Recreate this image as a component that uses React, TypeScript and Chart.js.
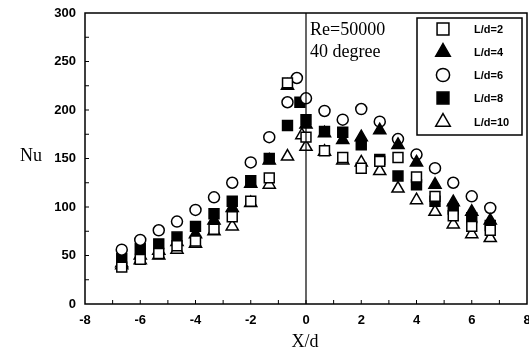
import { useEffect, useRef } from "react";
import { Chart, registerables } from "chart.js";

Chart.register(...registerables);

// X/d sample positions shared by all series
const xPositions = [-6.67, -6, -5.33, -4.67, -4, -3.33, -2.67, -2, -1.33, -0.67, 0, 0.67, 1.33, 2, 2.67, 3.33, 4, 4.67, 5.33, 6, 6.67];

// Nu values per series (L/d)
const nuLd2 = [38, 46, 52, 60, 65, 77, 90, 106, 130, 228, 172, 158, 151, 140, 147, 151, 131, 111, 91, 80, 76];
const nuLd4 = [42, 50, 55, 64, 72, 86, 99, 124, 148, 225, 185, 176, 169, 172, 179, 164, 146, 123, 105, 95, 86];
const nuLd6 = [56, 66, 76, 85, 97, 110, 125, 146, 172, 208, 212, 199, 190, 201, 188, 170, 154, 140, 125, 111, 99];
const nuLd8 = [47, 57, 62, 69, 80, 93, 106, 127, 150, 184, 190, 178, 177, 164, 149, 132, 123, 106, 98, 89, 81];
const nuLd10 = [40, 45, 50, 56, 62, 75, 80, 104, 123, 152, 162, 157, 148, 146, 137, 119, 107, 95, 82, 72, 68];

// extra points measured close to the stagnation point
const extraXLd6 = [-0.33];
const extraNuLd6 = [233];
const extraXLd8 = [-0.22];
const extraNuLd8 = [208];
const extraXLd10 = [-0.15];
const extraNuLd10 = [174];

const seriesLabels = ["L/d=2", "L/d=4", "L/d=6", "L/d=8", "L/d=10"];
const xTicks = [-8, -6, -4, -2, 0, 2, 4, 6, 8];
const yTicks = [0, 50, 100, 150, 200, 250, 300];

const SERIF = "'Liberation Serif', 'Times New Roman', serif";
const SANS = "'Liberation Sans', Arial, sans-serif";

type Sym = { style: "rect" | "triangle" | "circle"; filled: boolean; r: number };
const symbols: Sym[] = [
  { style: "rect", filled: false, r: 7 },
  { style: "triangle", filled: true, r: 7 },
  { style: "circle", filled: false, r: 5.5 },
  { style: "rect", filled: true, r: 7 },
  { style: "triangle", filled: false, r: 7 },
];

function pts(xs: number[], ys: number[]) {
  return xs.map((x, i) => ({ x, y: ys[i] }));
}

function drawSymbol(ctx: CanvasRenderingContext2D, s: Sym, x: number, y: number, scale: number) {
  const r = s.r * scale;
  ctx.beginPath();
  if (s.style === "rect") {
    const h = r * Math.SQRT1_2;
    ctx.rect(x - h, y - h, 2 * h, 2 * h);
  } else if (s.style === "circle") {
    ctx.arc(x, y, r, 0, Math.PI * 2);
  } else {
    ctx.moveTo(x, y - r);
    ctx.lineTo(x + Math.cos(Math.PI / 6) * r, y + Math.sin(Math.PI / 6) * r);
    ctx.lineTo(x - Math.cos(Math.PI / 6) * r, y + Math.sin(Math.PI / 6) * r);
    ctx.closePath();
  }
  ctx.fillStyle = s.filled ? "#000" : "#fff";
  ctx.fill();
  ctx.lineWidth = 1.5;
  ctx.strokeStyle = "#000";
  ctx.stroke();
}

const decorPlugin = {
  id: "decor",
  afterDatasetsDraw(chart: any) {
    const ctx: CanvasRenderingContext2D = chart.ctx;
    const { left, right, top, bottom } = chart.chartArea;
    const xs = chart.scales.x;
    const ys = chart.scales.y;
    ctx.save();
    // frame
    ctx.strokeStyle = "#000";
    ctx.lineWidth = 1.5;
    ctx.strokeRect(left, top, right - left, bottom - top);
    // vertical line at X/d = 0
    const x0 = xs.getPixelForValue(0);
    ctx.lineWidth = 1.2;
    ctx.beginPath();
    ctx.moveTo(x0, top);
    ctx.lineTo(x0, bottom);
    ctx.stroke();
    // inner tick marks
    ctx.lineWidth = 1;
    ctx.beginPath();
    for (let v = -7; v <= 7; v++) {
      const px = xs.getPixelForValue(v);
      ctx.moveTo(px, bottom);
      ctx.lineTo(px, bottom - 4);
    }
    for (let v = 25; v < 300; v += 25) {
      const py = ys.getPixelForValue(v);
      ctx.moveTo(left, py);
      ctx.lineTo(left + 4, py);
    }
    ctx.stroke();
    // legend
    ctx.lineWidth = 1.5;
    ctx.fillStyle = "#fff";
    ctx.fillRect(417, 18, 105, 117);
    ctx.strokeRect(417, 18, 105, 117);
    const rows = [29, 52, 75, 98, 122];
    seriesLabels.forEach((lab, i) => {
      drawSymbol(ctx, symbols[i], 443, rows[i], 1.2);
      ctx.fillStyle = "#000";
      ctx.font = `bold 11px ${SANS}`;
      ctx.textAlign = "left";
      ctx.textBaseline = "middle";
      ctx.fillText(lab, 474, rows[i] + 1);
    });
    // annotation
    ctx.fillStyle = "#000";
    ctx.font = `18px ${SERIF}`;
    ctx.textAlign = "left";
    ctx.textBaseline = "middle";
    ctx.fillText("Re=50000", 310, 30);
    ctx.fillText("40 degree", 310, 52);
    // axis titles
    ctx.textAlign = "center";
    ctx.fillText("Nu", 31, 156);
    ctx.fillText("X/d", 305, 342);
    ctx.restore();
  },
};

export default function App() {
  const ref = useRef<HTMLCanvasElement | null>(null);
  useEffect(() => {
    document.body.style.margin = "0";
    const canvas = ref.current;
    if (!canvas) return;
    const allX = [xPositions, xPositions, xPositions.concat(extraXLd6), xPositions.concat(extraXLd8), xPositions.concat(extraXLd10)];
    const allY = [nuLd2, nuLd4, nuLd6.concat(extraNuLd6), nuLd8.concat(extraNuLd8), nuLd10.concat(extraNuLd10)];
    const chart = new Chart(canvas, {
      type: "scatter",
      data: {
        datasets: seriesLabels.map((label, i) => ({
          label,
          data: pts(allX[i], allY[i]),
          pointStyle: symbols[i].style,
          pointRadius: symbols[i].r,
          pointHoverRadius: symbols[i].r,
          pointBackgroundColor: symbols[i].filled ? "#000" : "#fff",
          pointBorderColor: "#000",
          pointBorderWidth: 1.5,
          showLine: false,
        })),
      },
      options: {
        animation: false,
        responsive: false,
        devicePixelRatio: 1,
        layout: { autoPadding: false, padding: { top: 13, right: 2, left: 0, bottom: 0 } },
        plugins: { legend: { display: false }, tooltip: { enabled: false } },
        scales: {
          x: {
            type: "linear",
            min: -8,
            max: 8,
            afterFit: (s: any) => { s.height = 50; s.paddingLeft = 0; s.paddingRight = 0; },
            afterBuildTicks: (s: any) => { s.ticks = xTicks.map((v) => ({ value: v })); },
            grid: { display: false, drawTicks: false },
            border: { display: false },
            ticks: { color: "#000", font: { family: SANS, size: 13, weight: "bold" }, padding: 9, maxRotation: 0 },
          },
          y: {
            type: "linear",
            min: 0,
            max: 300,
            afterFit: (s: any) => { s.width = 85; s.paddingTop = 0; s.paddingBottom = 0; },
            afterBuildTicks: (s: any) => { s.ticks = yTicks.map((v) => ({ value: v })); },
            grid: { display: false, drawTicks: false },
            border: { display: false },
            ticks: { color: "#000", font: { family: SANS, size: 13, weight: "bold" }, padding: 9 },
          },
        },
      },
      plugins: [decorPlugin],
    });
    return () => chart.destroy();
  }, []);
  return (
    <div style={{ width: 529, height: 354, background: "#fff" }}>
      <canvas ref={ref} width={529} height={354} style={{ display: "block" }} />
    </div>
  );
}
